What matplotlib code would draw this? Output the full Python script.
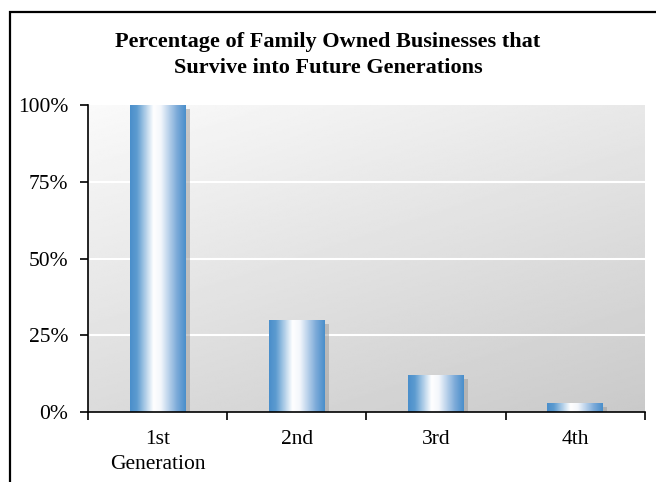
import numpy as np
import matplotlib.pyplot as plt
from matplotlib.patches import Rectangle
from matplotlib.colors import LinearSegmentedColormap
import matplotlib.patheffects as pe

categories = ["1st\nGeneration", "2nd", "3rd", "4th"]
values = [100, 30, 12, 3]
yticks = [0, 25, 50, 75, 100]
title = "Percentage of Family Owned Businesses that\nSurvive into Future Generations"

plt.rcParams['font.family'] = ['Liberation Serif', 'DejaVu Serif']

fig = plt.figure(figsize=(6.56, 4.82), dpi=100)
ax = fig.add_axes([0.134, 0.145, 0.849, 0.637])

# outer frame (right/bottom edges fall outside the image)
fig.patches.append(Rectangle((10 / 656, -0.2), 1.2, 1.2 - 12 / 482,
                             transform=fig.transFigure, fill=False,
                             edgecolor='black', linewidth=1.6))

# plot area background gradient
xx, yy = np.meshgrid(np.linspace(0, 1, 200), np.linspace(1, 0, 200))
bg = 0.98 - 0.07 * xx - 0.12 * (1 - yy)
ax.imshow(bg, cmap='gray', vmin=0, vmax=1, extent=(0, 1, 0, 1),
          transform=ax.transAxes, aspect='auto', zorder=0, interpolation='bilinear')

for y in yticks[1:-1]:
    ax.axhline(y, color='white', linewidth=1.5, zorder=1)

bar_cmap = LinearSegmentedColormap.from_list(
    'barg', [(0, '#4a8fcb'), (0.12, '#5d9bd0'), (0.42, '#ffffff'),
             (0.55, '#f4f7fc'), (0.85, '#7aa9d8'), (1, '#4a8fcb')])
grad = np.linspace(0, 1, 100).reshape(1, -1)
width = 0.4
x = np.arange(len(values))
bars = ax.bar(x, values, width=width, color='none', edgecolor='none', zorder=2,
              path_effects=[pe.SimplePatchShadow(offset=(3, -3), shadow_rgbFace='#999999', alpha=0.5)])
for b, xi, v in zip(bars, x, values):
    im = ax.imshow(grad, cmap=bar_cmap, extent=(xi - width / 2, xi + width / 2, 0, v),
                   aspect='auto', zorder=3, interpolation='bilinear')
    im.set_clip_path(b)

ax.set_xlim(-0.5, len(values) - 0.5)
ax.set_ylim(0, 100)
ax.set_yticks(yticks)
ax.set_yticklabels([f"{t}%" for t in yticks], fontsize=15.5)
ax.set_xticks(np.arange(len(values) + 1) - 0.5)
ax.set_xticklabels([])
ax.set_xticks(x, minor=True)
ax.set_xticklabels(categories, minor=True, fontsize=15.5, linespacing=1.4)
ax.tick_params(axis='x', which='minor', length=0, pad=13)
ax.tick_params(axis='x', which='major', length=6, width=1.2, direction='out')
ax.tick_params(axis='y', length=6, width=1.2, pad=8)
for s in ['top', 'right']:
    ax.spines[s].set_visible(False)
for s in ['left', 'bottom']:
    ax.spines[s].set_linewidth(1.2)
    ax.spines[s].set_zorder(4)

fig.text(0.5, 0.886, title, ha='center', va='center', fontsize=16,
         fontweight='bold', linespacing=1.45)

fig.savefig("out.png", dpi=100)
